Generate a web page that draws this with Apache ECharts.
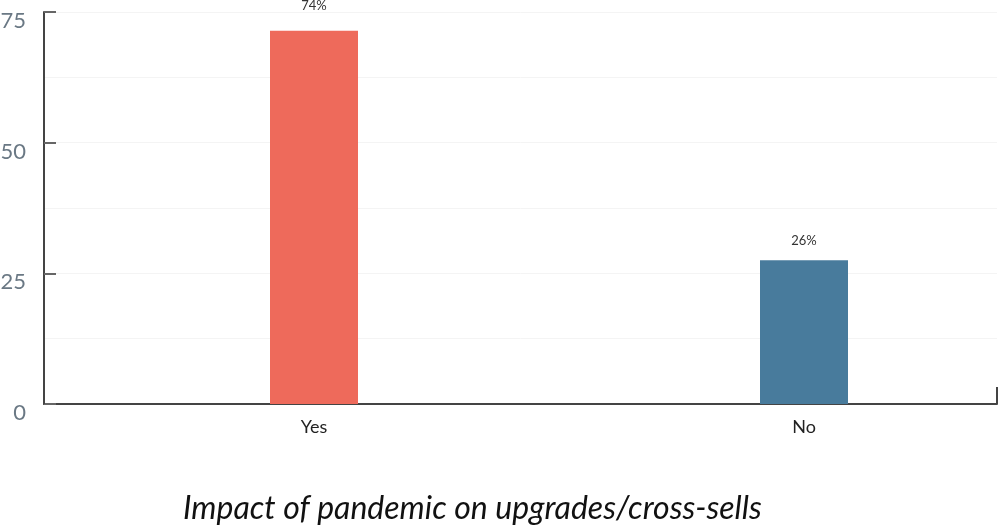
<!DOCTYPE html>
<html>
<head>
<meta charset="utf-8">
<script src="https://cdn.jsdelivr.net/npm/echarts@6/dist/echarts.min.js"></script>
<style>
  html, body { margin: 0; padding: 0; background: #fff; }
  #chart { width: 1000px; height: 532px; }
</style>
</head>
<body>
<div id="chart"></div>
<script>
// chart data
const categories = ['Yes', 'No'];
const barValues = [71.4, 27.5];
const barLabels = ['74%', '26%'];
const barColors = ['#ee6a5b', '#487b9c'];
const labelGaps = [19, 13];
const yTicks = [0, 25, 50, 75];
const chartTitle = 'Impact of pandemic on upgrades/cross-sells';

const fontFamily = 'Lato, "Open Sans", sans-serif';

const chartOpt = () => ({
    animation: false,
    backgroundColor: '#fff',
    title: {
        text: chartTitle,
        left: 183,
        top: 493,
        padding: 0,
        textStyle: {
            fontFamily: fontFamily,
            fontStyle: 'italic',
            fontWeight: 'normal',
            fontSize: 32,
            color: '#111'
        }
    },
    grid: [
        // frame with axes
        { left: 44, right: 3, top: 12, bottom: 128, outerBoundsMode: 'none' },
        // bars
        { left: 69, width: 980, top: 12, bottom: 128, outerBoundsMode: 'none' }
    ],
    xAxis: [
        {
            type: 'value',
            gridIndex: 0,
            min: 0,
            max: 1,
            interval: 1,
            axisLine: { show: true, lineStyle: { color: '#444', width: 2 } },
            axisTick: { show: true, inside: true, length: 17, lineStyle: { color: '#444', width: 2 } },
            axisLabel: { show: false },
            splitLine: { show: false }
        },
        {
            type: 'category',
            gridIndex: 1,
            data: categories,
            axisLine: { show: false },
            axisTick: { show: false },
            axisLabel: {
                margin: 14,
                fontFamily: fontFamily,
                fontSize: 18,
                color: '#222'
            }
        }
    ],
    yAxis: [
        {
            type: 'value',
            gridIndex: 0,
            min: yTicks[0],
            max: yTicks[yTicks.length - 1],
            interval: 25,
            axisLine: { show: true, lineStyle: { color: '#444', width: 2 } },
            axisTick: { show: true, inside: true, length: 12, lineStyle: { color: '#666', width: 2 } },
            axisLabel: {
                margin: 18,
                fontFamily: fontFamily,
                fontSize: 22,
                color: '#6a7884',
                verticalAlign: 'top',
                lineHeight: 18
            },
            splitLine: { show: true, lineStyle: { color: '#f4f4f4', width: 1 } },
            minorTick: { show: false, splitNumber: 2 },
            minorSplitLine: { show: true, lineStyle: { color: '#f4f4f4', width: 1 } }
        },
        {
            type: 'value',
            gridIndex: 1,
            min: yTicks[0],
            max: yTicks[yTicks.length - 1],
            show: false
        }
    ],
    series: [
        {
            type: 'bar',
            xAxisIndex: 1,
            yAxisIndex: 1,
            barWidth: 88,
            data: barValues.map((v, i) => ({
                value: v,
                itemStyle: { color: barColors[i] },
                label: {
                    show: true,
                    position: 'top',
                    distance: labelGaps[i],
                    formatter: barLabels[i],
                    fontFamily: fontFamily,
                    fontSize: 13,
                    color: '#333'
                }
            }))
        }
    ]
});

const chart = echarts.init(document.getElementById('chart'), null, { renderer: 'canvas' });
chart.setOption(chartOpt());
</script>
</body>
</html>
